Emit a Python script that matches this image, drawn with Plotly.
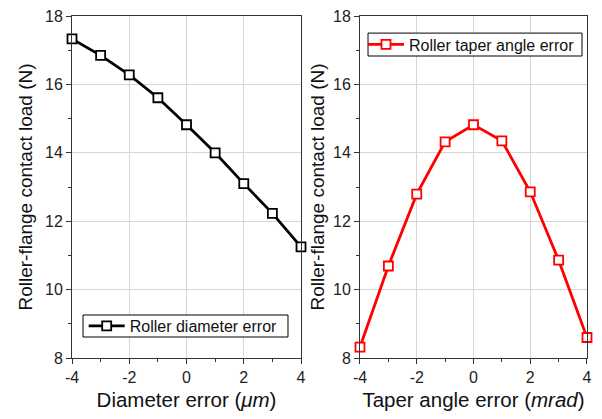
import plotly.graph_objects as go

x_vals = [-4, -3, -2, -1, 0, 1, 2, 3, 4]
diameter_load = [17.33, 16.85, 16.28, 15.61, 14.82, 14.0, 13.1, 12.23, 11.25]
taper_load = [8.32, 10.69, 12.79, 14.32, 14.82, 14.35, 12.86, 10.86, 8.6]
tick_x = [-4, -2, 0, 2, 4]
tick_x_text = ["-4", "-2", "0", "2", "4"]
tick_y = [8, 10, 12, 14, 16, 18]

FONT = "Arial, Liberation Sans, sans-serif"

fig = go.Figure()
fig.add_trace(go.Scatter(
    x=x_vals, y=diameter_load, mode="lines+markers", name="Roller diameter error",
    line=dict(color="black", width=2.8),
    marker=dict(symbol="square", size=9, color="white", line=dict(color="black", width=1.8)),
    xaxis="x", yaxis="y", legend="legend", cliponaxis=False,
))
fig.add_trace(go.Scatter(
    x=x_vals, y=taper_load, mode="lines+markers", name="Roller taper angle error",
    line=dict(color="#ff0000", width=2.8),
    marker=dict(symbol="square", size=9, color="white", line=dict(color="#ff0000", width=1.8)),
    xaxis="x2", yaxis="y2", legend="legend2", cliponaxis=False,
))

axis_common = dict(
    showline=True, linecolor="#333333", linewidth=1, mirror=True,
    showgrid=True, gridcolor="#d6d6d6", gridwidth=1,
    ticks="outside", ticklen=5, tickcolor="#333333", tickwidth=1,
    tickfont=dict(family=FONT, size=16, color="#222222"),
    zeroline=False, automargin=False, ticklabeloverflow="allow",
    minor=dict(ticks="outside", ticklen=3, dtick=1, tickcolor="#333333", showgrid=False),
)

ytitle_font = dict(family=FONT, size=19, color="#111111")
xtitle_font = dict(family=FONT, size=20.5, color="#111111")

fig.update_layout(
    width=594, height=403,
    margin=dict(l=64, r=15, t=8, b=53),
    paper_bgcolor="white", plot_bgcolor="white",
    font=dict(family=FONT, color="#111111"),
    xaxis=dict(axis_common, domain=[0, 0.4447], range=[-4, 4], tickvals=tick_x, ticktext=tick_x_text,
               title=dict(text="Diameter error (<i>μm</i>)", font=xtitle_font, standoff=7)),
    yaxis=dict(axis_common, domain=[0, 1], range=[8, 18], tickvals=tick_y,
               title=dict(text="Roller-flange contact load (N)", font=ytitle_font, standoff=7)),
    xaxis2=dict(axis_common, domain=[0.5592, 1], range=[-4, 4], tickvals=tick_x, ticktext=tick_x_text, anchor="y2",
                title=dict(text="Taper angle error (<i>mrad</i>)", font=xtitle_font, standoff=7)),
    yaxis2=dict(axis_common, domain=[0, 1], range=[8, 18], tickvals=tick_y, anchor="x2",
                title=dict(text="Roller-flange contact load (N)", font=ytitle_font, standoff=3)),
    legend=dict(x=0.0227, y=0.0936, xanchor="left", yanchor="middle",
                borderwidth=0, bgcolor="rgba(0,0,0,0)",
                font=dict(family=FONT, size=16, color="#111111"), itemwidth=36),
    legend2=dict(x=0.565, y=0.9167, xanchor="left", yanchor="middle",
                 borderwidth=0, bgcolor="rgba(0,0,0,0)",
                 font=dict(family=FONT, size=16, color="#111111"), itemwidth=36),
    showlegend=True,
    shapes=[
        dict(type="rect", xref="paper", yref="paper", x0=0.0214, x1=0.4194, y0=0.0614, y1=0.1257,
             line=dict(color="black", width=1), fillcolor="white", layer="above"),
        dict(type="rect", xref="paper", yref="paper", x0=0.5748, x1=0.9903, y0=0.883, y1=0.950,
             line=dict(color="black", width=1), fillcolor="white", layer="above"),
    ],
)

fig.write_html("out.html")
